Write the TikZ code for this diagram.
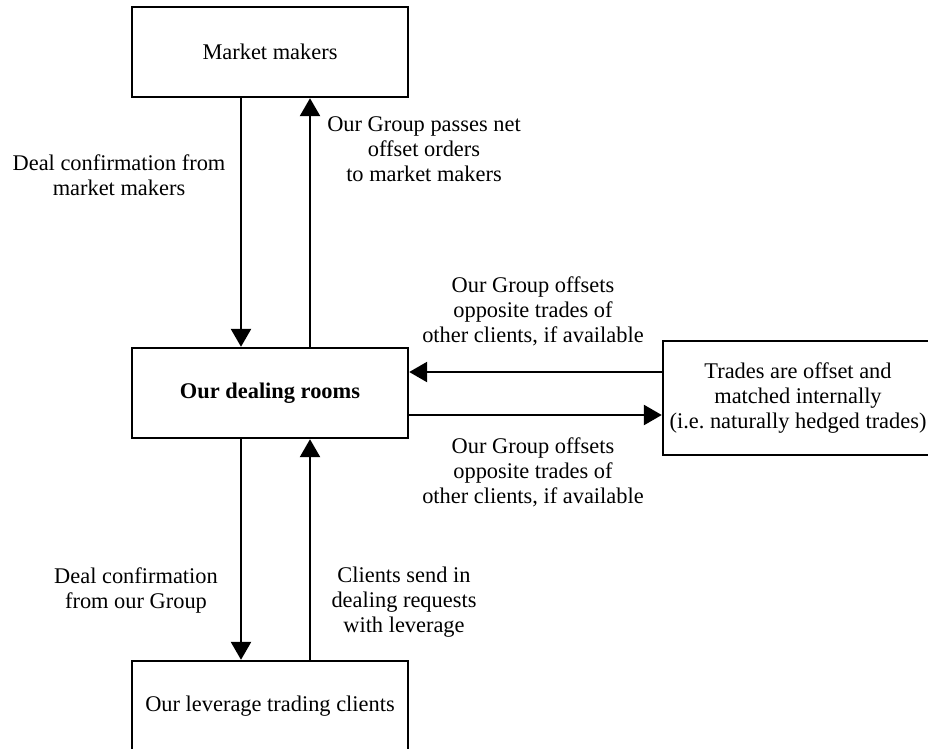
\documentclass[tikz,border=0pt]{standalone}
\usepackage{fontspec}
\setmainfont{Liberation Serif}
\usetikzlibrary{arrows.meta}
\begin{document}
\begin{tikzpicture}[x=1pt,y=-1pt,
  every node/.style={font=\fontsize{22.4}{25}\selectfont},
  box/.style={draw, line width=2.4pt, minimum width=276pt, minimum height=90pt,
              inner sep=0pt, align=center},
  lbl/.style={align=center, inner sep=0pt},
  flow/.style={line width=2.6pt, -{Triangle[length=18pt,width=20pt]}}]
\useasboundingbox (0,0) rectangle (928,748);

% boxes
\node[box] (mm)   at (270,52)  {Market makers};
\node[box] (deal) at (270,393) {\bfseries Our dealing rooms};
\node[box] (cli)  at (270,706) {Our leverage trading clients};
\node[box, minimum width=270pt, minimum height=114pt] (trades) at (798,398)
  {Trades are offset and\\matched internally\\(i.e.\ naturally hedged trades)};

% guide coordinates for the arrow lanes
\coordinate (xl) at (241,0);
\coordinate (xr) at (310,0);
\coordinate (yu) at (0,372);
\coordinate (yd) at (0,415);

% connectors
\draw[flow] (mm.south -| xl) -- (deal.north -| xl);
\draw[flow] (deal.north -| xr) -- (mm.south -| xr);
\draw[flow] (deal.south -| xl) -- (cli.north -| xl);
\draw[flow] (cli.north -| xr) -- (deal.south -| xr);
\draw[flow] (trades.west |- yu) -- (deal.east |- yu);
\draw[flow] (deal.east |- yd) -- (trades.west |- yd);

% labels
\node[lbl] (l1) at (119,175) {Deal confirmation from\\market makers};
\node[lbl] (l2) at (424,149) {Our Group passes net\\offset orders\\to market makers};
\node[lbl] (l3) at (533,311) {Our Group offsets\\opposite trades of\\other clients, if available};
\node[lbl] (l4) at (533,472) {Our Group offsets\\opposite trades of\\other clients, if available};
\node[lbl] (l5) at (136,590) {Deal confirmation\\from our Group};
\node[lbl] (l6) at (404,602) {Clients send in\\dealing requests\\with leverage};
\end{tikzpicture}
\end{document}
